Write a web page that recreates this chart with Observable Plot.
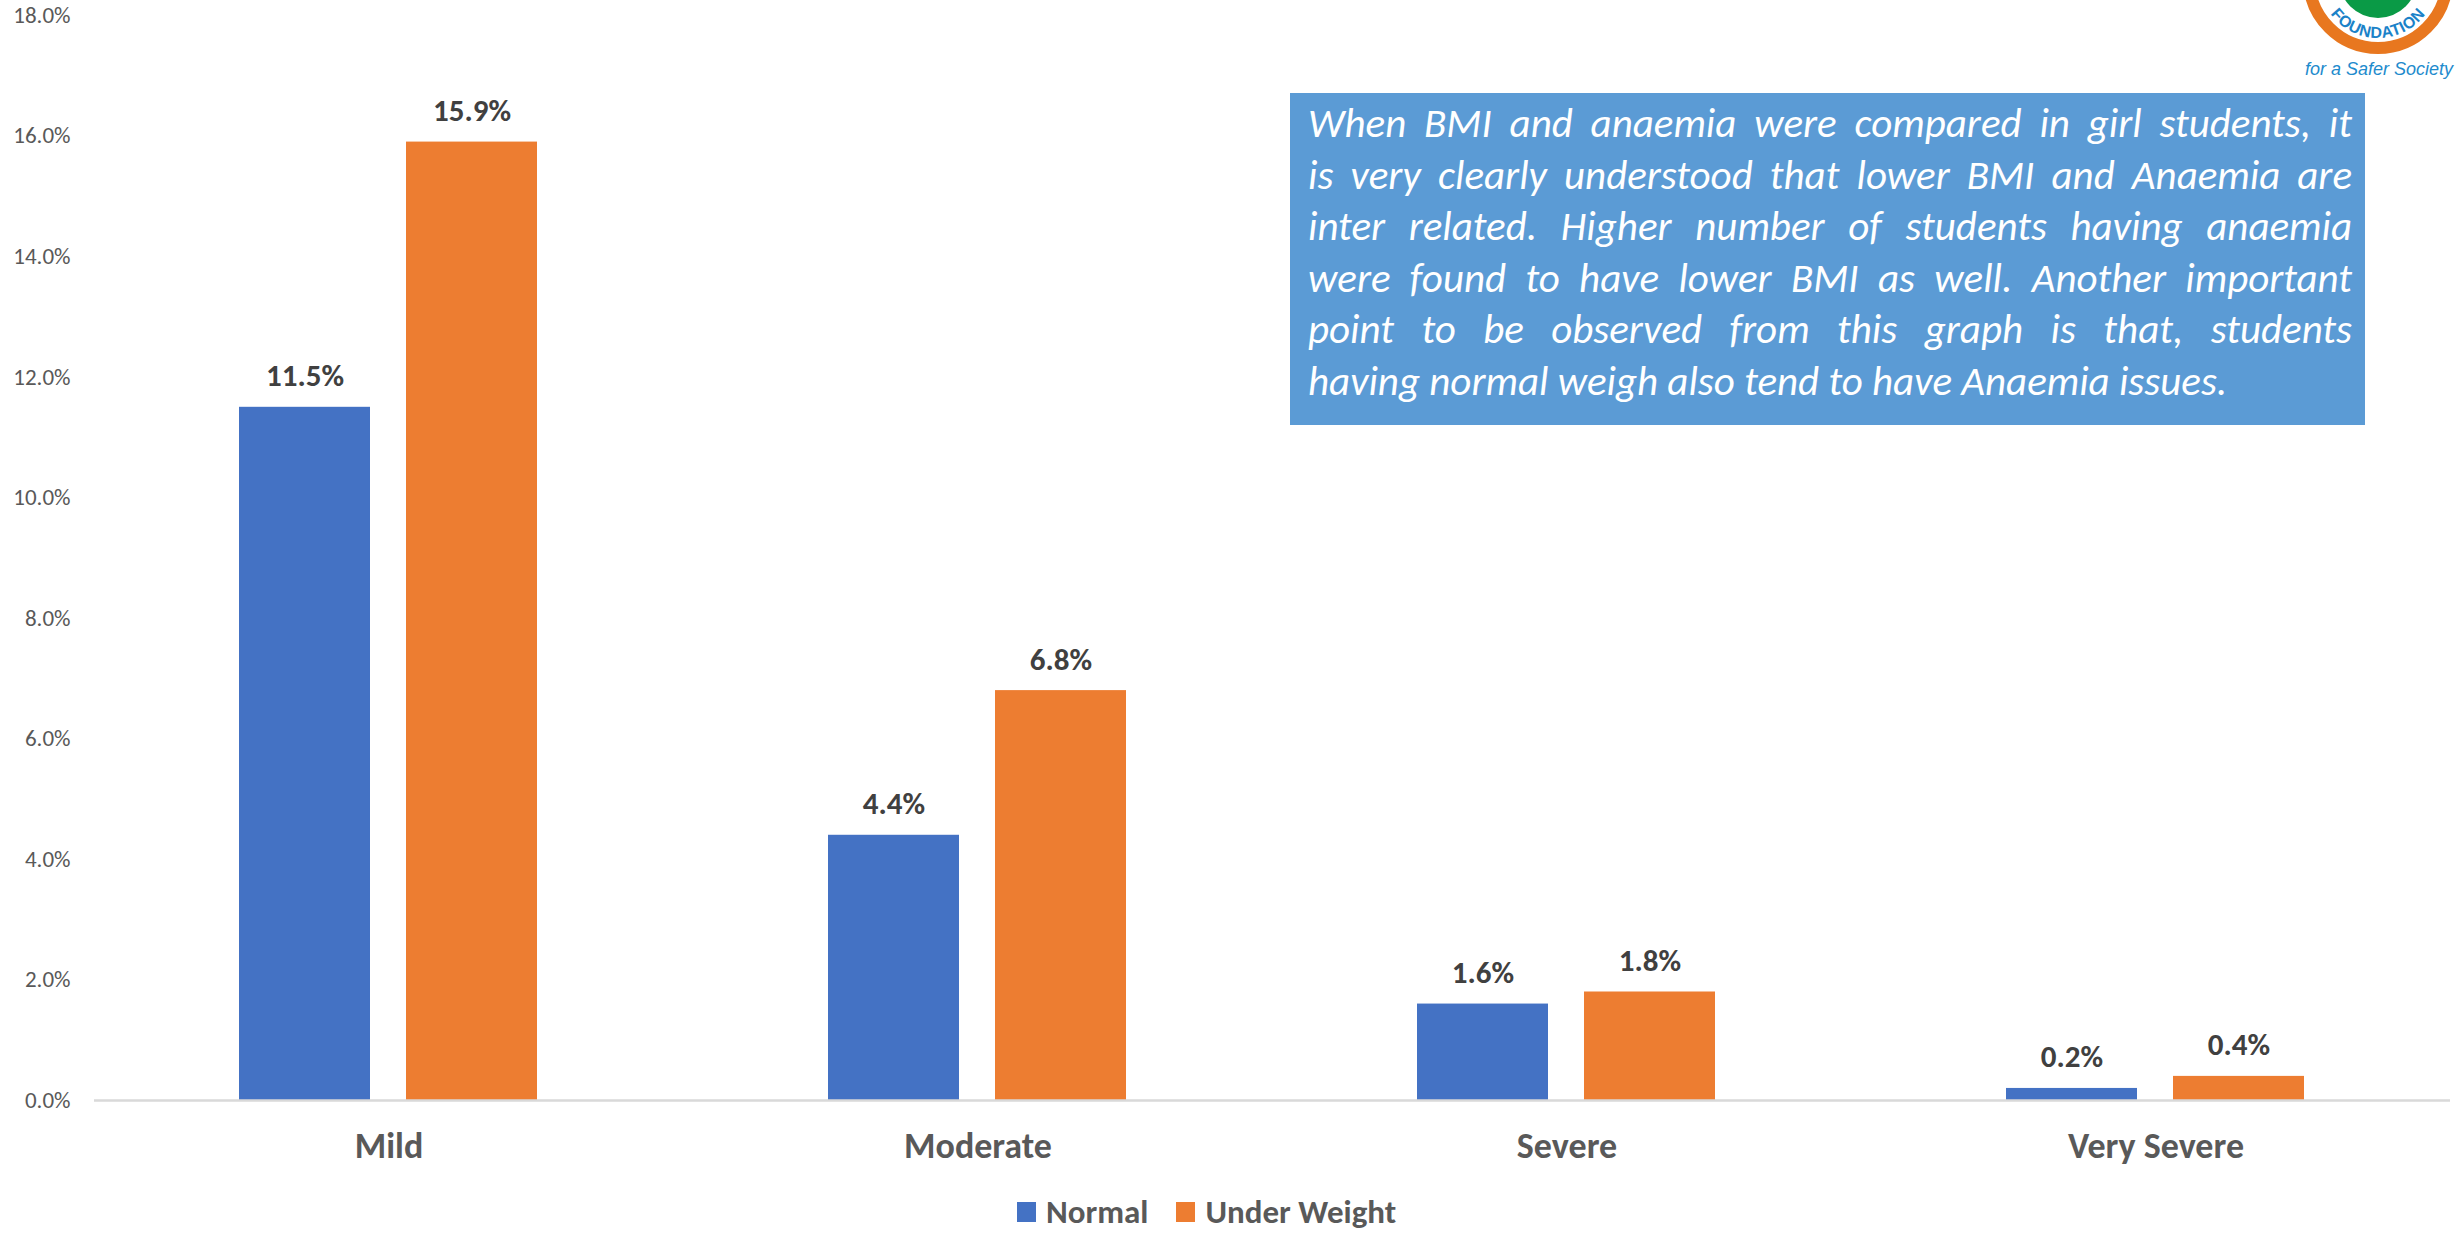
<!DOCTYPE html>
<html>
<head>
<meta charset="utf-8">
<script src="https://cdn.jsdelivr.net/npm/d3@7"></script>
<script src="https://cdn.jsdelivr.net/npm/@observablehq/plot@0.6"></script>
<style>
  html, body { margin: 0; padding: 0; background: #fff; }
  #wrap { position: relative; width: 2461px; height: 1234px; overflow: hidden; font-family: Calibri, Carlito, Lato, "Open Sans", sans-serif; }
  #chart { position: absolute; left: 0; top: 0; }
  #chart svg { overflow: visible; }
  #legend { position: absolute; left: 1017px; top: 1195px; height: 34px; display: flex; align-items: center; font-weight: bold; font-size: 33px; line-height: 34px; color: #595959; white-space: nowrap; }
  #legend .item { display: flex; align-items: center; margin-right: 28px; }
  #legend .sw { width: 19px; height: 20px; margin-right: 10px; }
  #note { position: absolute; left: 1290px; top: 93px; width: 1075px; height: 332px; box-sizing: border-box; background: #5B9BD5; color: #fff; font-style: italic; font-size: 41px; padding: 5px 13px 0 18px; }
  #note .ln { height: 51.6px; line-height: 51.6px; text-align: justify; text-align-last: justify; white-space: normal; overflow: visible; }
  #note .ln.last { text-align-last: left; }
  #logo { position: absolute; left: 2280px; top: 0; }
</style>
</head>
<body>
<div id="wrap">
  <div id="chart"></div>
  <div id="note"></div>
  <div id="legend"></div>
  <svg id="logo" width="181" height="90" viewBox="0 0 181 90">
    <defs>
      <path id="arc" d="M 39 -21 A 59 59 0 0 0 157 -21"></path>
    </defs>
    <circle cx="98" cy="-21" r="69" fill="#fff" stroke="#E8771F" stroke-width="12"></circle>
    <circle cx="98" cy="-21" r="39" fill="#0A9A46"></circle>
    <text font-family="Liberation Sans, Arial, sans-serif" font-weight="bold" font-size="16" fill="#1B82C8" letter-spacing="0.5">
      <textPath href="#arc" startOffset="50%" text-anchor="middle">FOUNDATION</textPath>
    </text>
    <text x="99" y="75" text-anchor="middle" font-family="Liberation Sans, Arial, sans-serif" font-style="italic" font-size="18" fill="#1E8BCD">for a Safer Society</text>
  </svg>
</div>
<script>
// ---- data ----
const categories = ["Mild", "Moderate", "Severe", "Very Severe"];
const seriesNames = ["Normal", "Under Weight"];
const normalValues = [11.5, 4.4, 1.6, 0.2];
const underWeightValues = [15.9, 6.8, 1.8, 0.4];
const yTicks = [0, 2, 4, 6, 8, 10, 12, 14, 16, 18];
const seriesColors = ["#4472C4", "#ED7D31"];
const noteLines = [
  "When BMI and anaemia were compared in girl students, it",
  "is very clearly understood that lower BMI and Anaemia are",
  "inter related. Higher number of students having anaemia",
  "were found to have lower BMI as well. Another important",
  "point to be observed from this graph is that, students",
  "having normal weigh also tend to have Anaemia issues."
];

const rows = [];
categories.forEach((c, i) => {
  rows.push({category: c, series: seriesNames[0], value: normalValues[i]});
  rows.push({category: c, series: seriesNames[1], value: underWeightValues[i]});
});

const font = 'Calibri, Carlito, Lato, "Open Sans", sans-serif';

const chart = Plot.plot({
  width: 2461,
  height: 1180,
  marginLeft: 92,
  marginRight: 10,
  marginTop: 15,
  marginBottom: 80,
  style: {fontFamily: font, background: "transparent", overflow: "visible"},
  fx: {domain: categories, padding: 0, label: null},
  x: {domain: seriesNames, axis: null, paddingInner: 0.214, paddingOuter: 0.862},
  y: {domain: [0, 18], label: null},
  color: {domain: seriesNames, range: seriesColors},
  marks: [
    Plot.axisY({ticks: yTicks, tickFormat: d => d.toFixed(1) + "%", tickSize: 0, tickPadding: 24, fontSize: 23, fill: "#595959", label: null}),
    Plot.axisFx({anchor: "bottom", tickSize: 0, tickPadding: 32, fontSize: 36, fontWeight: "bold", fill: "#595959", label: null}),
    Plot.barY(rows, {fx: "category", x: "series", y: "value", fill: "series"}),
    Plot.ruleY([0], {stroke: "#d9d9d9", strokeWidth: 2.5}),
    Plot.text(rows, {fx: "category", x: "series", y: "value", text: d => d.value.toFixed(1) + "%", lineAnchor: "bottom", dy: -21, fontSize: 31, fontWeight: "bold", fill: "#404040"})
  ]
});
document.getElementById("chart").appendChild(chart);

// legend
const legend = document.getElementById("legend");
seriesNames.forEach((s, i) => {
  const item = document.createElement("div");
  item.className = "item";
  const sw = document.createElement("div");
  sw.className = "sw";
  sw.style.background = seriesColors[i];
  const lab = document.createElement("span");
  lab.textContent = s;
  item.appendChild(sw);
  item.appendChild(lab);
  legend.appendChild(item);
});

// note box
const note = document.getElementById("note");
noteLines.forEach((t, i) => {
  const d = document.createElement("div");
  d.className = "ln" + (i === noteLines.length - 1 ? " last" : "");
  d.textContent = t;
  note.appendChild(d);
});
</script>
</body>
</html>
